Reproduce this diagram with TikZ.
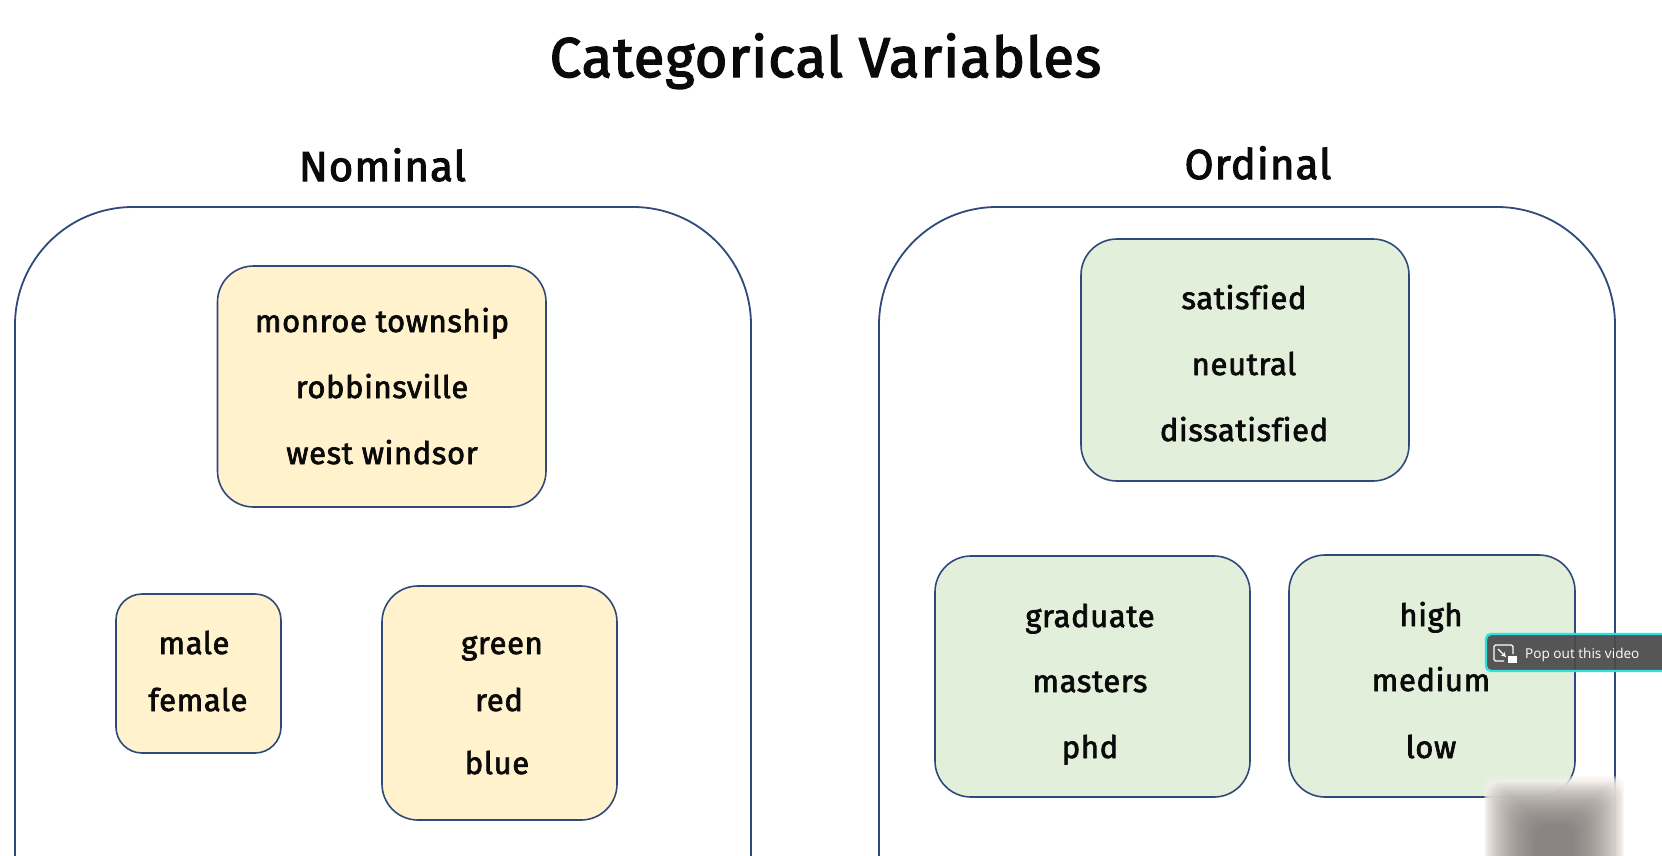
\documentclass[tikz,border=0pt]{standalone}
\usepackage{fontspec}
\setmainfont{Fira Sans}[Ligatures=NoCommon]
\newfontfamily\popfont{Open Sans}
\definecolor{edgeblue}{HTML}{2F4A7A}
\definecolor{yfill}{HTML}{FFF2CC}
\definecolor{gfill}{HTML}{E2EFDA}
\definecolor{inkc}{HTML}{0A0A0A}
\definecolor{popbg}{HTML}{4A4A4A}
\definecolor{popedge}{HTML}{2FE0E0}
\definecolor{blurc}{HTML}{787370}
\definecolor{blurw}{HTML}{F4EFEA}
\tikzset{
  panel/.style={draw=edgeblue,line width=1.8pt,fill=white},
  ybox/.style={draw=edgeblue,line width=1.6pt,fill=yfill},
  gbox/.style={draw=edgeblue,line width=1.6pt,fill=gfill},
  item/.style={anchor=base,inner sep=0pt,text=inkc,font=\fontsize{31}{31}\selectfont\addfontfeature{FakeBold=2.2,LetterSpace=2}},
  head/.style={anchor=base,inner sep=0pt,text=inkc,font=\fontsize{42}{42}\selectfont\addfontfeature{FakeBold=2.4,LetterSpace=2.6}},
  ttl/.style={anchor=base,inner sep=0pt,text=inkc,font=\fontsize{56}{56}\selectfont\addfontfeature{FakeBold=2.6,LetterSpace=2}}
}
\begin{document}
\begin{tikzpicture}[x=1pt,y=-1pt]
\useasboundingbox[fill=white] (0,0) rectangle (1662,855);
% panels
\begin{scope}
\clip (0,0) rectangle (1662,855);
\draw[panel,rounded corners=118pt] (15,207) rectangle (751,1000);
\draw[panel,rounded corners=118pt] (879,207) rectangle (1615,1000);
\end{scope}
% boxes
\draw[ybox,rounded corners=36pt] (217.5,266) rectangle (546,507);
\draw[ybox,rounded corners=26pt] (116,594) rectangle (281,753);
\draw[ybox,rounded corners=36pt] (382,586) rectangle (617,820);
\draw[gbox,rounded corners=36pt] (1081,239) rectangle (1409,481);
\draw[gbox,rounded corners=36pt] (935,556) rectangle (1250,797);
\draw[gbox,rounded corners=36pt] (1289,555) rectangle (1575,797);
% titles
\node[ttl] (title) at (825.5,77) {Categorical Variables};
\node[head] (nominal) at (382.5,181) {Nominal};
\node[head] (ordinal) at (1258,179) {Ordinal};
% nominal items
\node[item] (monroe) at (382,332) {monroe township};
\node[item] (robb) at (382,398) {robbinsville};
\node[item] (west) at (382,464) {west windsor};
\node[item] (male) at (194,654) {male};
\node[item] (female) at (198,711) {female};
\node[item] (green) at (502,654) {green};
\node[item] (red) at (499,711) {red};
\node[item] (blue) at (497,774) {blue};
% ordinal items
\node[item] (sat) at (1244,309) {satisfied};
\node[item] (neu) at (1244,375) {neutral};
\node[item] (dis) at (1244,441) {dissatisfied};
\node[item] (grad) at (1090,627) {graduate};
\node[item] (mast) at (1090,692) {masters};
\node[item] (phd) at (1090,758) {phd};
\node[item] (high) at (1431,626) {high};
\node[item] (med) at (1431,691) {medium};
\node[item] (low) at (1431,758) {low};
% blurred patch
\begin{scope}
\clip (1470,770) rectangle (1640,855);
\foreach \i in {0,1,...,7}{
  \fill[blurw,opacity=0.35,rounded corners=10pt]
    ({1484+1.0*\i},{776+1.5*\i}) rectangle ({1624-1.0*\i},{900});
}
\foreach \i in {0,1,...,29}{
  \fill[blurc,opacity=0.05,rounded corners=14pt]
    ({1486+1.7*\i},{782+1.5*\i}) rectangle ({1622-1.7*\i},{900});
}
\end{scope}
% pop-out pill
\fill[popbg,opacity=0.93,rounded corners=5pt] (1486,634) rectangle (1670,671);
\draw[popedge,line width=2.4pt,rounded corners=5pt] (1486,634) rectangle (1670,671);
\draw[white,line width=1.2pt,rounded corners=1.5pt] (1504,661) -- (1494,661) -- (1494,645) -- (1513,645) -- (1513,654);
\draw[white,line width=1.2pt,->,>=stealth] (1498,649) -- (1506,657);
\fill[white] (1508,656) rectangle (1517,663);
\node[anchor=base west,inner sep=0pt,text=white,font=\popfont\fontsize{13.6}{15}\selectfont] (pop) at (1525,658) {Pop out this video};
\end{tikzpicture}
\end{document}
